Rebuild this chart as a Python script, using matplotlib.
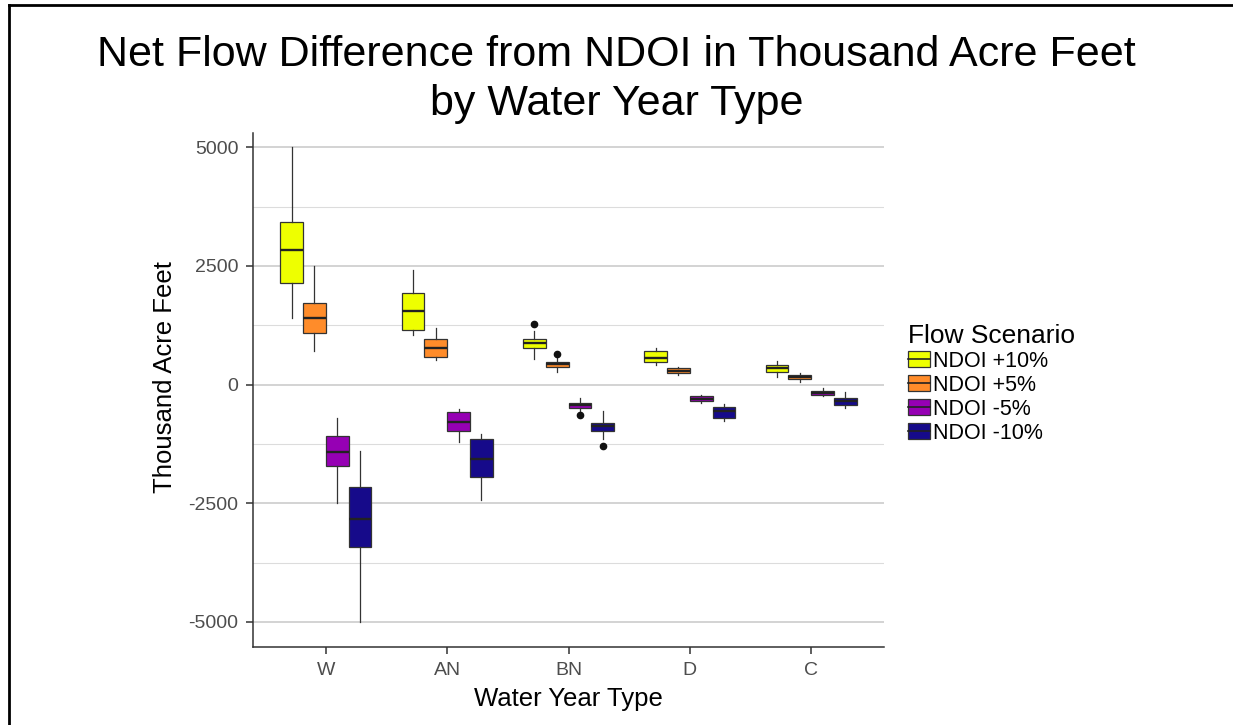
import numpy as np
import matplotlib.pyplot as plt
from matplotlib.patches import Patch
from matplotlib.lines import Line2D
from matplotlib.legend_handler import HandlerTuple

plt.rcParams['font.family'] = ['Liberation Sans', 'DejaVu Sans']
plt.rcParams['axes.unicode_minus'] = False

## data (thousand acre feet)
year_types = ['W', 'AN', 'BN', 'D', 'C']
scenarios = ['NDOI +10%', 'NDOI +5%', 'NDOI -5%', 'NDOI -10%']
colors = ['#EEFF00', '#FF8C2A', '#9600B4', '#160A8A']

# each row: whisker low, q1, median, q3, whisker high
plus10 = [[1400, 2150, 2825, 3420, 5000],
          [1035, 1150, 1545, 1935, 2410],
          [530, 775, 870, 955, 1125],
          [415, 478, 562, 702, 765],
          [154, 274, 344, 421, 491]]
plus5 = [[700, 1080, 1410, 1715, 2490],
         [520, 576, 775, 965, 1200],
         [260, 380, 436, 485, 562],
         [211, 238, 295, 344, 379],
         [63, 126, 169, 211, 238]]
minus5 = [[-2500, -1720, -1420, -1090, -700],
          [-1210, -980, -780, -580, -525],
          [-580, -490, -436, -390, -285],
          [-379, -344, -295, -238, -211],
          [-238, -211, -169, -126, -63]]
minus10 = [[-5000, -3430, -2830, -2160, -1405],
           [-2430, -1950, -1565, -1155, -1050],
           [-1145, -980, -870, -800, -548],
           [-765, -702, -562, -478, -415],
           [-491, -421, -344, -274, -154]]
outliers_plus10 = [[], [], [1270], [], []]
outliers_plus5 = [[], [], [635], [], []]
outliers_minus5 = [[], [], [-640], [], []]
outliers_minus10 = [[], [], [-1285], [], []]

series = [plus10, plus5, minus5, minus10]
series_out = [outliers_plus10, outliers_plus5, outliers_minus5, outliers_minus10]

fig = plt.figure(figsize=(12.33, 7.25), dpi=100)
ax = fig.add_axes([253 / 1233, 78 / 725, 631 / 1233, 514 / 725])

box_w = 0.1875
offsets = [-1.5 * box_w, -0.5 * box_w, 0.5 * box_w, 1.5 * box_w]
edge = '#333333'

for s, (vals, outs) in enumerate(zip(series, series_out)):
    stats = []
    for i, v in enumerate(vals):
        stats.append(dict(whislo=v[0], q1=v[1], med=v[2], q3=v[3], whishi=v[4],
                          fliers=outs[i]))
    pos = [i + 1 + offsets[s] for i in range(len(vals))]
    ax.bxp(stats, positions=pos, widths=box_w, patch_artist=True, showcaps=False,
           boxprops=dict(facecolor=colors[s], edgecolor=edge, linewidth=0.9),
           medianprops=dict(color='#222222', linewidth=1.7),
           whiskerprops=dict(color=edge, linewidth=0.9),
           flierprops=dict(marker='o', markerfacecolor='#111111', markeredgecolor='#111111',
                           markersize=4.5),
           manage_ticks=False, zorder=3)

ax.set_xlim(0.4, 5.6)
ax.set_ylim(-5530, 5300)
ax.set_xticks(range(1, len(year_types) + 1))
ax.set_xticklabels(year_types)
ax.set_yticks([-5000, -2500, 0, 2500, 5000])
ax.set_yticks([-3750, -1250, 1250, 3750], minor=True)
ax.grid(axis='y', which='major', color='#C8C8C8', linewidth=1.1, zorder=0)
ax.grid(axis='y', which='minor', color='#DCDCDC', linewidth=0.8, zorder=0)
ax.set_axisbelow(True)

for side in ['top', 'right']:
    ax.spines[side].set_visible(False)
for side in ['left', 'bottom']:
    ax.spines[side].set_color('#333333')
    ax.spines[side].set_linewidth(1.1)
ax.tick_params(axis='both', which='major', labelsize=14, labelcolor='#4D4D4D',
               color='#333333', length=5, width=1.1, pad=5.5)
ax.tick_params(axis='y', which='minor', length=0)

ax.set_xlabel('Water Year Type', fontsize=18.5, labelpad=6)
ax.set_ylabel('Thousand Acre Feet', fontsize=18.5)
ax.yaxis.set_label_coords(-0.12, 0.525)

fig.suptitle('Net Flow Difference from NDOI in Thousand Acre Feet\nby Water Year Type',
             fontsize=31, x=0.5, y=0.952, linespacing=1.3)

handles = [(Patch(facecolor=c, edgecolor=edge, linewidth=0.9),
            Line2D([], [], color='#222222', linewidth=1.2)) for c in colors]
leg = ax.legend(handles, scenarios, title='Flow Scenario', loc='center left',
                bbox_to_anchor=(1.038, 0.512), frameon=False, fontsize=15.5,
                title_fontsize=19, handler_map={tuple: HandlerTuple(ndivide=1)},
                handlelength=1.0, handleheight=0.75, handletextpad=0.15,
                labelspacing=0.14, borderaxespad=0, borderpad=0)
leg._legend_box.align = 'left'

# frame lines of the original export (left and top only)
fig.add_artist(Line2D([9 / 1233, 9 / 1233], [0, 1 - 5 / 725], color='black', linewidth=2))
fig.add_artist(Line2D([9 / 1233, 1], [1 - 5 / 725, 1 - 5 / 725], color='black', linewidth=2))

fig.savefig('out.png', dpi=100)
